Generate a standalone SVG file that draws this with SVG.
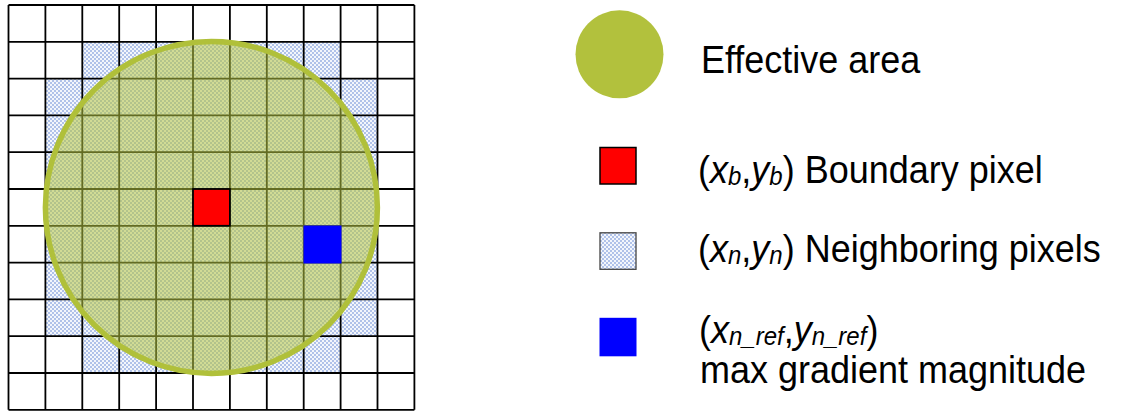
<svg xmlns="http://www.w3.org/2000/svg" width="1127" height="412" viewBox="0 0 1127 412">
<style>
.grid{fill:none;stroke:#000;stroke-width:1.8}
.lbl{font-family:"Liberation Sans",Arial,sans-serif;font-size:36px;fill:#000}
.it{font-style:italic}
.sub{font-size:24px;font-style:italic}
</style>
<defs>
<pattern id="dots" width="4" height="4" patternUnits="userSpaceOnUse">
<rect width="4" height="4" fill="#f3f6fc"/>
<circle cx="1" cy="1" r="0.7" fill="#3a66c8"/>
<circle cx="3" cy="3" r="0.7" fill="#3a66c8"/>
</pattern>
</defs>
<rect width="1127" height="412" fill="#fff"/>
<g id="neighbors">
<path d="M82.3,41.8H340.6V78.6H377.5V336.2H340.6V373H82.3V336.2H45.4V78.6H82.3Z" fill="url(#dots)"/>
</g>
<g id="grid">
<path class="grid" d="M8.5,5V409.8M45.4,5V409.8M82.3,5V409.8M119.2,5V409.8M156.1,5V409.8M193,5V409.8M229.9,5V409.8M266.8,5V409.8M303.7,5V409.8M340.6,5V409.8M377.5,5V409.8M414.4,5V409.8M8.5,5H414.4M8.5,41.8H414.4M8.5,78.6H414.4M8.5,115.4H414.4M8.5,152.2H414.4M8.5,189H414.4M8.5,225.8H414.4M8.5,262.6H414.4M8.5,299.4H414.4M8.5,336.2H414.4M8.5,373H414.4M8.5,409.8H414.4"/>
</g>
<g id="effective-area">
<circle cx="211.4" cy="207.4" r="166" fill="#b5c43f" fill-opacity="0.55" stroke="#b0c03a" stroke-width="5.5"/>
</g>
<g id="boundary-pixel">
<rect x="193" y="189" width="36.9" height="36.8" fill="#ff0000" stroke="#000" stroke-width="1.8"/>
</g>
<g id="max-gradient-pixel">
<rect x="303.5" y="225.5" width="38" height="38" fill="#0000ff"/>
</g>
<g id="legend-effective">
<circle cx="619.5" cy="54.3" r="44" fill="#b2c13d"/>
<g transform="translate(701,72.7) scale(1,1.08)"><text class="lbl" x="0" y="0">Effective area</text></g>
</g>
<g id="legend-boundary">
<rect x="600" y="147.5" width="36" height="36.5" fill="#ff0000" stroke="#000" stroke-width="1.5"/>
<g transform="translate(698,183.3) scale(1,1.08)"><text class="lbl" x="0" y="0">(<tspan class="it">x</tspan><tspan class="sub" dy="2">b</tspan><tspan dy="-2">,</tspan><tspan class="it">y</tspan><tspan class="sub" dy="2">b</tspan><tspan dy="-2">) Boundary pixel</tspan></text></g>
</g>
<g id="legend-neighbor">
<rect x="600" y="232.8" width="36" height="36.5" fill="url(#dots)" stroke="#444" stroke-width="1.3"/>
<g transform="translate(698,261.7) scale(1,1.08)"><text class="lbl" x="0" y="0">(<tspan class="it">x</tspan><tspan class="sub" dy="2">n</tspan><tspan dy="-2">,</tspan><tspan class="it">y</tspan><tspan class="sub" dy="2">n</tspan><tspan dy="-2">) Neighboring pixels</tspan></text></g>
</g>
<g id="legend-max">
<rect x="599.5" y="317.8" width="37" height="38.5" fill="#0000ff"/>
<g transform="translate(699,343.3) scale(1,1.08)"><text class="lbl" x="0" y="0">(<tspan class="it">x</tspan><tspan class="sub" dy="2">n_ref</tspan><tspan dy="-2">,</tspan><tspan class="it">y</tspan><tspan class="sub" dy="2">n_ref</tspan><tspan dy="-2">)</tspan></text></g>
<g transform="translate(700,383.3) scale(1,1.08)"><text class="lbl" x="0" y="0">max gradient magnitude</text></g>
</g>
</svg>
